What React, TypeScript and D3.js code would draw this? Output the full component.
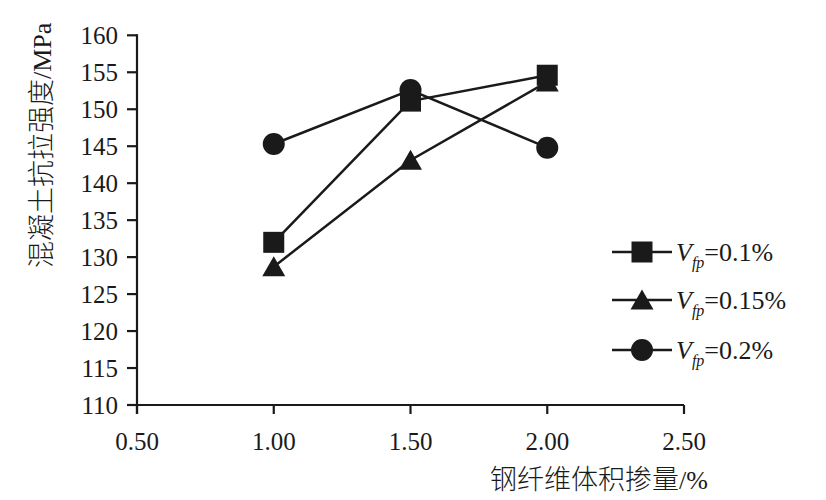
import React from "react";
import * as d3 from "d3";

const xValues = [1.0, 1.5, 2.0];
const seriesNames = ["0.1%", "0.15%", "0.2%"];
const seriesSquare = [132.0, 151.1, 154.6];
const seriesTriangle = [128.7, 143.1, 153.7];
const seriesCircle = [145.3, 152.6, 144.8];
const xTicks = [0.5, 1.0, 1.5, 2.0, 2.5];
const yTicks = [110, 115, 120, 125, 130, 135, 140, 145, 150, 155, 160];

const W = 826;
const H = 500;
const INK = "#1a1a1a";
const SERIF = "'Liberation Serif', 'Times New Roman', serif";
const CJK = "'Noto Sans CJK SC', sans-serif";

const x = d3.scaleLinear().domain([0.5, 2.5]).range([137, 684]);
const y = d3.scaleLinear().domain([110, 160]).range([405, 35.3]);

type Shape = "square" | "triangle" | "circle";

function Marker({ cx, cy, shape }: { cx: number; cy: number; shape: Shape }) {
  if (shape === "square") {
    return <rect x={cx - 10.5} y={cy - 10.5} width={21} height={21} fill={INK} />;
  }
  if (shape === "triangle") {
    return (
      <path
        d={`M${cx},${cy - 10.5} L${cx + 11.5},${cy + 9.5} L${cx - 11.5},${cy + 9.5} Z`}
        fill={INK}
      />
    );
  }
  return <circle cx={cx} cy={cy} r={11} fill={INK} />;
}

export default function App() {
  const series: { values: number[]; shape: Shape; name: string }[] = [
    { values: seriesSquare, shape: "square", name: seriesNames[0] },
    { values: seriesTriangle, shape: "triangle", name: seriesNames[1] },
    { values: seriesCircle, shape: "circle", name: seriesNames[2] },
  ];
  const line = d3
    .line<number>()
    .x((_, i) => x(xValues[i]))
    .y((v) => y(v));
  const legendY = [252, 300, 350];

  return (
    <svg
      width={W}
      height={H}
      style={{ position: "absolute", left: 0, top: 0, background: "#fff" }}
    >
      {/* axes */}
      <line x1={x(0.5)} x2={x(0.5)} y1={y(160) - 1} y2={y(110) + 9} stroke={INK} strokeWidth={2.2} />
      <line x1={x(0.5) - 10} x2={x(2.5)} y1={y(110)} y2={y(110)} stroke={INK} strokeWidth={2.2} />
      {yTicks.map((t) => (
        <g key={"y" + t}>
          <line x1={x(0.5) - 10} x2={x(0.5)} y1={y(t)} y2={y(t)} stroke={INK} strokeWidth={2.2} />
          <text
            x={118}
            y={y(t)}
            dy="0.35em"
            textAnchor="end"
            fontFamily={SERIF}
            fontSize={25}
            fill={INK}
          >
            {t}
          </text>
        </g>
      ))}
      {xTicks.map((t) => (
        <g key={"x" + t}>
          <line x1={x(t)} x2={x(t)} y1={y(110)} y2={y(110) + 9} stroke={INK} strokeWidth={2.2} />
          <text
            x={x(t)}
            y={450}
            textAnchor="middle"
            fontFamily={SERIF}
            fontSize={25}
            fill={INK}
          >
            {t.toFixed(2)}
          </text>
        </g>
      ))}
      {/* axis titles */}
      <text
        transform={`translate(51,268) rotate(-90)`}
        textAnchor="start"
        fill={INK}
      >
        <tspan fontFamily={CJK} fontSize={27} fontWeight={300}>混凝土抗拉强度</tspan>
        <tspan fontFamily={SERIF} fontSize={26}>/MPa</tspan>
      </text>
      <text x={708} y={489} textAnchor="end" fill={INK}>
        <tspan fontFamily={CJK} fontSize={27} fontWeight={300}>钢纤维体积掺量</tspan>
        <tspan fontFamily={SERIF} fontSize={26}>/%</tspan>
      </text>

      {/* series */}
      {series.map((s) => (
        <g key={s.name}>
          <path d={line(s.values) || ""} fill="none" stroke={INK} strokeWidth={2.5} />
          {s.values.map((v, i) => (
            <Marker key={i} cx={x(xValues[i])} cy={y(v)} shape={s.shape} />
          ))}
        </g>
      ))}

      {/* legend */}
      {series.map((s, i) => (
        <g key={"lg" + s.name}>
          <line x1={612} x2={672} y1={legendY[i]} y2={legendY[i]} stroke={INK} strokeWidth={2.5} />
          <Marker cx={642} cy={legendY[i]} shape={s.shape} />
          <text x={676} y={legendY[i] + 9} fontFamily={SERIF} fontSize={26} fill={INK}>
            <tspan fontStyle="italic">V</tspan>
            <tspan fontStyle="italic" fontSize={16} dy={7}>fp</tspan>
            <tspan dy={-7}>={s.name}</tspan>
          </text>
        </g>
      ))}
    </svg>
  );
}
